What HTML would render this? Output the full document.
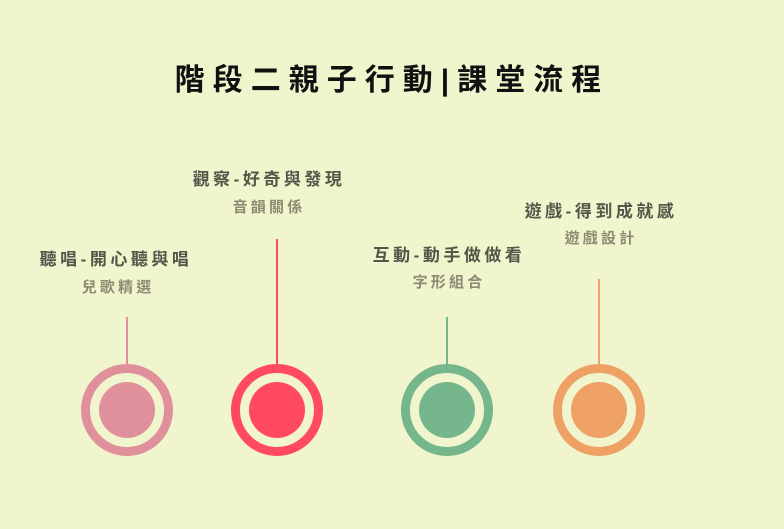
<!DOCTYPE html>
<html><head><meta charset="utf-8"><style>
html,body{margin:0;padding:0}
body{width:784px;height:529px;background:#f1f5cd;position:relative;overflow:hidden;font-family:"Liberation Sans","Noto Sans CJK TC",sans-serif}
.t{position:absolute;white-space:nowrap;transform:translateX(-50%);font-weight:bold}
.h{font-size:30px;color:#111;letter-spacing:8px}
.a{font-size:17px;color:#55554a;letter-spacing:3.5px}
.b{font-size:15px;color:#8b8b74;letter-spacing:3.2px}
</style></head><body>
<div class="t h" style="left:392px;top:55px">階段二親子行動|課堂流程</div>
<div class="t a" style="left:116px;top:245px">聽唱-開心聽與唱</div>
<div class="t b" style="left:118px;top:276px">兒歌精選</div>
<div class="t a" style="left:269px;top:165px">觀察-好奇與發現</div>
<div class="t b" style="left:269px;top:196px">音韻關係</div>
<div class="t a" style="left:449px;top:241px">互動-動手做做看</div>
<div class="t b" style="left:449px;top:271px">字形組合</div>
<div class="t a" style="left:601px;top:197px">遊戲-得到成就感</div>
<div class="t b" style="left:601px;top:227px">遊戲設計</div>
<svg width="784" height="529" style="position:absolute;left:0;top:0">
<g stroke-width="2">
<line x1="127" y1="317" x2="127" y2="364" stroke="#e0909a"/>
<line x1="277" y1="239" x2="277" y2="364" stroke="#ff4a60"/>
<line x1="447" y1="317" x2="447" y2="364" stroke="#76b68d"/>
<line x1="599" y1="279" x2="599" y2="364" stroke="#eea065"/>
</g>
<g>
<circle cx="127" cy="410" r="41.5" fill="none" stroke="#e0909a" stroke-width="9"/><circle cx="127" cy="410" r="28" fill="#e0909a"/>
<circle cx="277" cy="410" r="41.5" fill="none" stroke="#ff4a60" stroke-width="9"/><circle cx="277" cy="410" r="28" fill="#ff4a60"/>
<circle cx="447" cy="410" r="41.5" fill="none" stroke="#76b68d" stroke-width="9"/><circle cx="447" cy="410" r="28" fill="#76b68d"/>
<circle cx="599" cy="410" r="41.5" fill="none" stroke="#eea065" stroke-width="9"/><circle cx="599" cy="410" r="28" fill="#eea065"/>
</g>
</svg>
</body></html>
